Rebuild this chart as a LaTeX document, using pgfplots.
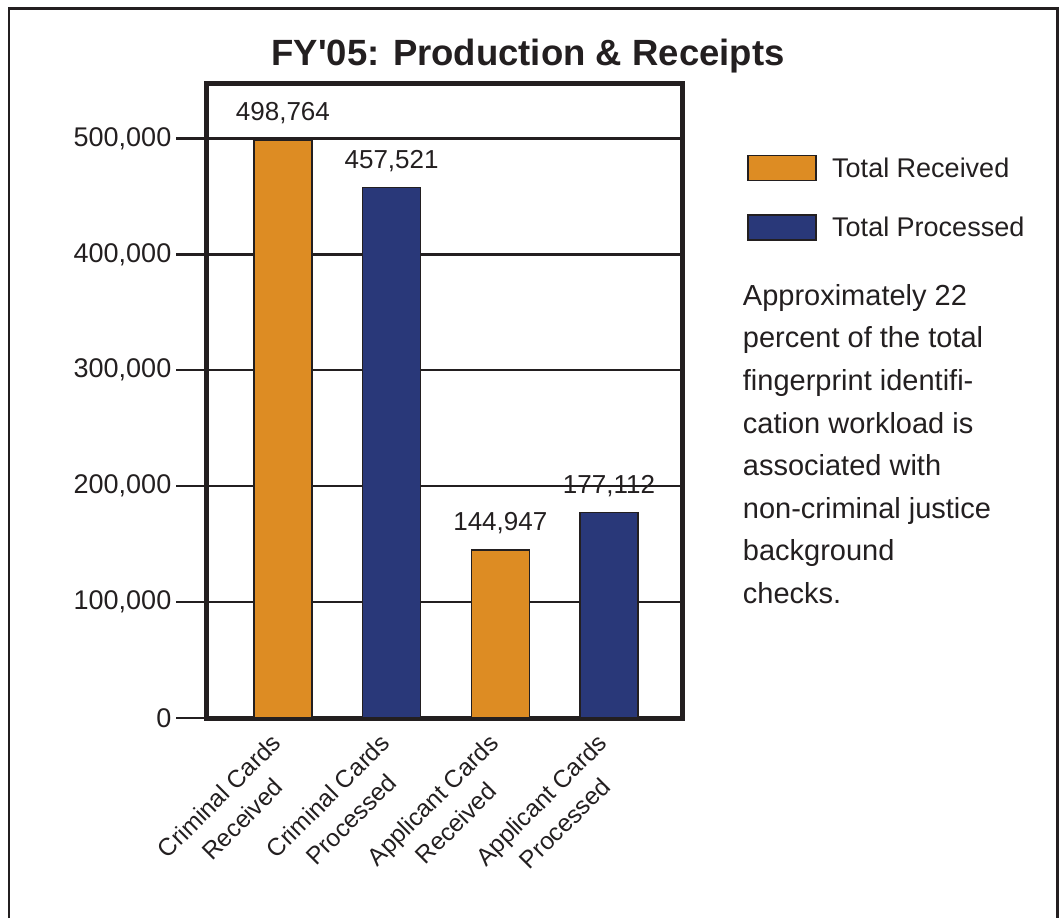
\documentclass[border=0pt]{standalone}
\usepackage{pgfplots}
\pgfplotsset{compat=1.18}
\usepackage{fontspec}
\setmainfont{Liberation Sans}
\usepackage{graphicx}
\definecolor{recv}{RGB}{221,140,35}
\definecolor{proc}{RGB}{41,56,121}
\definecolor{ink}{RGB}{35,31,32}

\begin{document}
\begin{tikzpicture}
\useasboundingbox (0,0) rectangle (1059pt,918pt);
\draw[ink, line width=2.5pt] (9pt,0pt) -- (9pt,909.7pt) -- (1057.5pt,909.7pt) -- (1057.5pt,0pt);
\node[anchor=base, inner sep=0pt, text=ink] at (528pt,852.3pt) {\fontsize{36.5}{40}\selectfont\bfseries FY\textquotesingle 05: Production \& Receipts};
\node[anchor=north west, inner sep=0pt, align=left, text=ink, font=\fontsize{29}{42.6}\selectfont] at (742.7pt,634pt)
 {Approximately 22\\percent of the total\\fingerprint identifi-\\cation workload is\\associated with\\non-criminal justice\\background\\checks.};
\begin{axis}[
  scale only axis, width=476pt, height=634.5pt,
  at={(206.5pt,200pt)}, anchor=south west,
  ybar, bar width=58pt, bar shift=0pt,
  xmin=-0.703, xmax=3.676, ymin=0, ymax=547450,
  xtick={0,1,2,3},
  xticklabels={{Criminal Cards\\Received},{Criminal Cards\\Processed},{Applicant Cards\\Received},{Applicant Cards\\Processed}},
  xticklabel style={xshift=-13pt, yshift=16pt, rotate=45, anchor=north east, align=center, inner sep=0pt, font=\fontsize{24.5}{33}\selectfont},
  xtick style={draw=none},
  ytick={0,100000,200000,300000,400000,500000},
  ytick pos=left, tick align=outside,
  major tick length=30pt,
  ytick style={line width=2.3pt, ink},
  ymajorgrids, major grid style={line width=2.3pt, ink},
  axis line style={line width=5pt, ink},
  scaled y ticks=false,
  yticklabel={\pgfmathprintnumber[fixed, precision=0, 1000 sep={,}, assume math mode=true]{\tick}},
  tick label style={text=ink},
  yticklabel style={font=\fontsize{27}{30}\selectfont, inner sep=0pt, xshift=-5pt},
  nodes near coords={\pgfmathprintnumber[fixed, precision=0, 1000 sep={,}, assume math mode=true]{\pgfplotspointmeta}},
  nodes near coords style={font=\fontsize{26}{28}\selectfont, inner sep=0pt, yshift=15pt, text=ink},
  legend cell align=left,
  legend style={draw=none, fill=none, at={(1.1292,0.8909)}, anchor=north west, font=\fontsize{27}{30}\selectfont, row sep=33pt, nodes={inner sep=0pt, text=ink}, /tikz/every odd column/.append style={column sep=15.5pt}},
]
\addplot[fill=recv, draw=ink, line width=1.5pt, legend image code/.code={\draw[fill=recv,draw=ink,line width=1.5pt] (0pt,-12.5pt) rectangle (68pt,12.5pt);}] coordinates {(0,498764) (2,144947)};
\addplot[fill=proc, draw=ink, line width=1.5pt, legend image code/.code={\draw[fill=proc,draw=ink,line width=1.5pt] (0pt,-12.5pt) rectangle (68pt,12.5pt);}] coordinates {(1,457521) (3,177112)};
\legend{Total Received, Total Processed}
\end{axis}
\end{tikzpicture}
\end{document}
